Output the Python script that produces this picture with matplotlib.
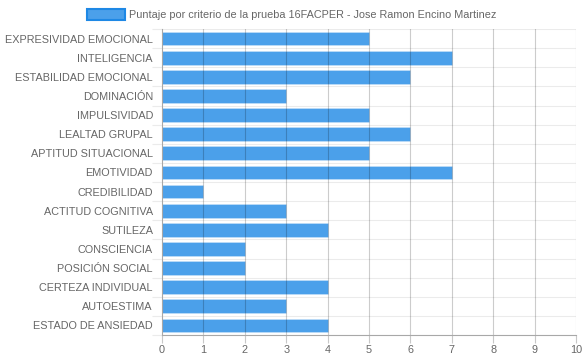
import numpy as np
from matplotlib import pyplot as plt
from matplotlib.patches import Patch

categories = ["EXPRESIVIDAD EMOCIONAL", "INTELIGENCIA", "ESTABILIDAD EMOCIONAL",
              "DOMINACIÓN", "IMPULSIVIDAD", "LEALTAD GRUPAL", "APTITUD SITUACIONAL",
              "EMOTIVIDAD", "CREDIBILIDAD", "ACTITUD COGNITIVA", "SUTILEZA",
              "CONSCIENCIA", "POSICIÓN SOCIAL", "CERTEZA INDIVIDUAL", "AUTOESTIMA",
              "ESTADO DE ANSIEDAD"]
scores = [5, 7, 6, 3, 5, 6, 5, 7, 1, 3, 4, 2, 2, 4, 3, 4]
x_ticks = list(range(0, 11))
series_label = "Puntaje por criterio de la prueba 16FACPER - Jose Ramon Encino Martinez"

plt.rcParams['font.family'] = ['Liberation Sans', 'DejaVu Sans']

fill = (30/255, 136/255, 229/255, 0.8)
edge = (30/255, 136/255, 229/255, 1.0)
text_col = '#666666'
fs = 7.8

fig = plt.figure(figsize=(5.84, 3.59), dpi=100)
ax = fig.add_axes([162/584, 1 - 335/359, 414/584, 306/359])

n = len(categories)
pos = np.arange(n)
ax.barh(pos, scores, height=0.72, color=fill, edgecolor=(1, 1, 1, 0.3),
        linewidth=0.5, zorder=1)

ax.set_xlim(0, 10)
ax.set_ylim(n - 0.5, -0.5)
ax.set_xticks(x_ticks)
ax.set_yticks(pos)
ax.set_yticklabels(categories)
bounds = np.arange(-0.5, n, 1.0)
ax.set_yticks(bounds, minor=True)

# vertical grid drawn over the bars
for v in x_ticks[1:]:
    ax.axvline(v, color='#000000', alpha=0.2, linewidth=0.8, zorder=2)
# horizontal grid between categories
for b in bounds:
    ax.axhline(b, color='#000000', alpha=0.08, linewidth=0.8, zorder=0)

for s in ['top', 'right']:
    ax.spines[s].set_visible(False)
for s in ['left', 'bottom']:
    ax.spines[s].set_color('#a8a8a8')
    ax.spines[s].set_linewidth(0.8)

ax.tick_params(axis='x', length=6, width=0.8, color='#c8c8c8', labelcolor=text_col,
               labelsize=fs, pad=1)
ax.tick_params(axis='y', which='major', length=0, labelcolor=text_col,
               labelsize=fs, pad=6.5)
ax.tick_params(axis='y', which='minor', length=7, width=0.8, color='#ebebeb')

handle = Patch(facecolor=fill, edgecolor=edge, linewidth=1.5)
fig.legend([handle], [series_label], loc='upper center', bbox_to_anchor=(0.5, 1.0),
           frameon=False, fontsize=fs, labelcolor=text_col, handlelength=3.5,
           handleheight=1.2, handletextpad=0.4, borderaxespad=0.45)

fig.savefig('out.png', dpi=100)
